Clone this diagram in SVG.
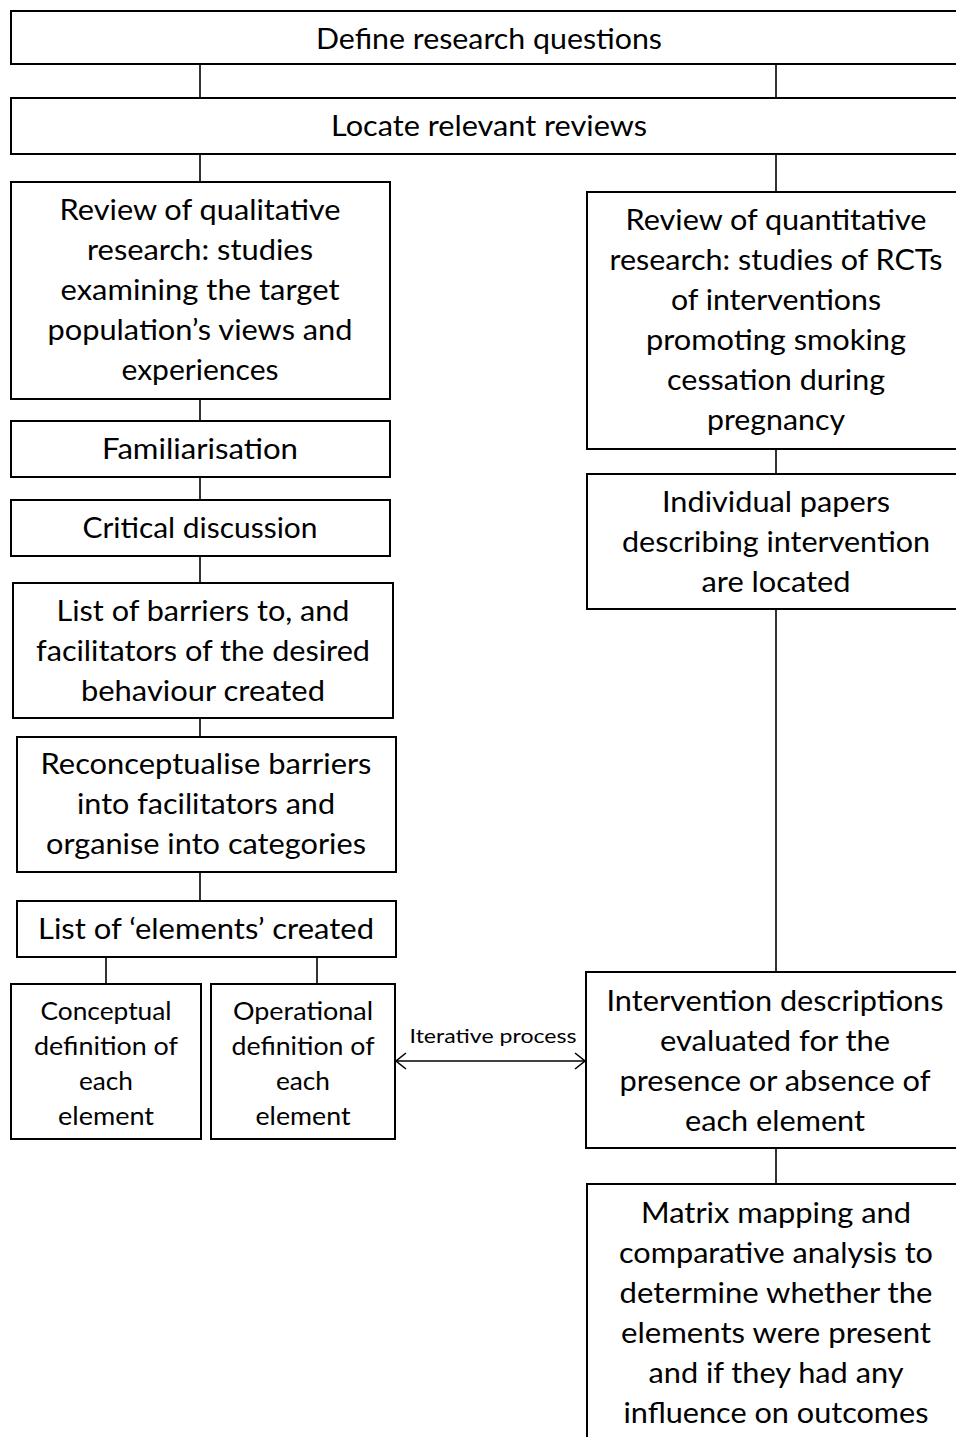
<svg xmlns="http://www.w3.org/2000/svg" width="956" height="1437" viewBox="0 0 956 1437">
  <style>
    .box { fill: #ffffff; stroke: #000000; stroke-width: 2; }
    .link { fill: none; stroke: #000000; stroke-width: 1.6; }
    .t { font-family: Lato, "Liberation Sans", sans-serif; font-size: 28px; fill: #000000; text-anchor: middle; }
    .s { font-family: Lato, "Liberation Sans", sans-serif; font-size: 25px; fill: #000000; text-anchor: middle; }
    .lbl { font-family: Lato, "Liberation Sans", sans-serif; font-size: 20px; fill: #000000; text-anchor: middle; }
  </style>
  <defs>
    <marker id="chev" viewBox="0 0 12 18" refX="11" refY="9" markerWidth="12" markerHeight="18" markerUnits="userSpaceOnUse" orient="auto-start-reverse">
      <path d="M1,1 L11,9 L1,17" fill="none" stroke="#000000" stroke-width="1.6"/>
    </marker>
  </defs>
  <rect width="956" height="1437" fill="#ffffff"/>

  <!-- connectors -->
  <g id="connectors">
    <line class="link" x1="200" y1="64" x2="200" y2="98"/>
    <line class="link" x1="776" y1="64" x2="776" y2="98"/>
    <line class="link" x1="200" y1="154" x2="200" y2="182"/>
    <line class="link" x1="776" y1="154" x2="776" y2="192"/>
    <line class="link" x1="200" y1="399" x2="200" y2="421"/>
    <line class="link" x1="200" y1="477" x2="200" y2="500"/>
    <line class="link" x1="200" y1="556" x2="200" y2="583"/>
    <line class="link" x1="200" y1="718" x2="200" y2="737"/>
    <line class="link" x1="200" y1="872" x2="200" y2="901"/>
    <line class="link" x1="106" y1="957" x2="106" y2="984"/>
    <line class="link" x1="317" y1="957" x2="317" y2="984"/>
    <line class="link" x1="776" y1="449" x2="776" y2="474"/>
    <line class="link" x1="776" y1="609" x2="776" y2="972"/>
    <line class="link" x1="776" y1="1148" x2="776" y2="1184"/>
    <line class="link" x1="396" y1="1061" x2="585" y2="1061" marker-start="url(#chev)" marker-end="url(#chev)"/>
    <text class="lbl" x="493" y="1043" textLength="167" lengthAdjust="spacingAndGlyphs">Iterative process</text>
  </g>

  <g id="define">
    <rect class="box" x="11" y="11" width="970" height="53"/>
    <text class="t" x="489" y="49" textLength="346" lengthAdjust="spacingAndGlyphs">Define research questions</text>
  </g>

  <g id="locate">
    <rect class="box" x="11" y="98" width="970" height="56"/>
    <text class="t" x="489" y="136" textLength="316" lengthAdjust="spacingAndGlyphs">Locate relevant reviews</text>
  </g>

  <g id="qualitative">
    <rect class="box" x="11" y="182" width="379" height="217"/>
    <text class="t" x="200" y="220" textLength="281" lengthAdjust="spacingAndGlyphs">Review of qualitative</text>
    <text class="t" x="200" y="260" textLength="226" lengthAdjust="spacingAndGlyphs">research: studies</text>
    <text class="t" x="200" y="300" textLength="279" lengthAdjust="spacingAndGlyphs">examining the target</text>
    <text class="t" x="200" y="340" textLength="305" lengthAdjust="spacingAndGlyphs">population’s views and</text>
    <text class="t" x="200" y="380" textLength="157" lengthAdjust="spacingAndGlyphs">experiences</text>
  </g>

  <g id="familiarisation">
    <rect class="box" x="11" y="421" width="379" height="56"/>
    <text class="t" x="200" y="459" textLength="196" lengthAdjust="spacingAndGlyphs">Familiarisation</text>
  </g>

  <g id="critical">
    <rect class="box" x="11" y="500" width="379" height="56"/>
    <text class="t" x="200" y="538" textLength="235" lengthAdjust="spacingAndGlyphs">Critical discussion</text>
  </g>

  <g id="barriers">
    <rect class="box" x="13" y="583" width="380" height="135"/>
    <text class="t" x="203" y="621" textLength="293" lengthAdjust="spacingAndGlyphs">List of barriers to, and</text>
    <text class="t" x="203" y="661" textLength="334" lengthAdjust="spacingAndGlyphs">facilitators of the desired</text>
    <text class="t" x="203" y="701" textLength="244" lengthAdjust="spacingAndGlyphs">behaviour created</text>
  </g>

  <g id="reconceptualise">
    <rect class="box" x="17" y="737" width="379" height="135"/>
    <text class="t" x="206" y="774" textLength="331" lengthAdjust="spacingAndGlyphs">Reconceptualise barriers</text>
    <text class="t" x="206" y="814" textLength="258" lengthAdjust="spacingAndGlyphs">into facilitators and</text>
    <text class="t" x="206" y="854" textLength="320" lengthAdjust="spacingAndGlyphs">organise into categories</text>
  </g>

  <g id="elements">
    <rect class="box" x="17" y="901" width="379" height="56"/>
    <text class="t" x="206" y="939" textLength="336" lengthAdjust="spacingAndGlyphs">List of ‘elements’ created</text>
  </g>

  <g id="conceptual">
    <rect class="box" x="11" y="984" width="190" height="155"/>
    <text class="s" x="106" y="1020" textLength="131" lengthAdjust="spacingAndGlyphs">Conceptual</text>
    <text class="s" x="106" y="1055" textLength="144" lengthAdjust="spacingAndGlyphs">definition of</text>
    <text class="s" x="106" y="1090" textLength="54" lengthAdjust="spacingAndGlyphs">each</text>
    <text class="s" x="106" y="1125" textLength="96" lengthAdjust="spacingAndGlyphs">element</text>
  </g>

  <g id="operational">
    <rect class="box" x="211" y="984" width="184" height="155"/>
    <text class="s" x="303" y="1020" textLength="140" lengthAdjust="spacingAndGlyphs">Operational</text>
    <text class="s" x="303" y="1055" textLength="143" lengthAdjust="spacingAndGlyphs">definition of</text>
    <text class="s" x="303" y="1090" textLength="54" lengthAdjust="spacingAndGlyphs">each</text>
    <text class="s" x="303" y="1125" textLength="95" lengthAdjust="spacingAndGlyphs">element</text>
  </g>

  <g id="quantitative">
    <rect class="box" x="587" y="192" width="400" height="257"/>
    <text class="t" x="776" y="230" textLength="301" lengthAdjust="spacingAndGlyphs">Review of quantitative</text>
    <text class="t" x="776" y="270" textLength="333" lengthAdjust="spacingAndGlyphs">research: studies of RCTs</text>
    <text class="t" x="776" y="310" textLength="210" lengthAdjust="spacingAndGlyphs">of interventions</text>
    <text class="t" x="776" y="350" textLength="260" lengthAdjust="spacingAndGlyphs">promoting smoking</text>
    <text class="t" x="776" y="390" textLength="218" lengthAdjust="spacingAndGlyphs">cessation during</text>
    <text class="t" x="776" y="430" textLength="138" lengthAdjust="spacingAndGlyphs">pregnancy</text>
  </g>

  <g id="papers">
    <rect class="box" x="587" y="474" width="400" height="135"/>
    <text class="t" x="776" y="512" textLength="228" lengthAdjust="spacingAndGlyphs">Individual papers</text>
    <text class="t" x="776" y="552" textLength="308" lengthAdjust="spacingAndGlyphs">describing intervention</text>
    <text class="t" x="776" y="592" textLength="149" lengthAdjust="spacingAndGlyphs">are located</text>
  </g>

  <g id="evaluation">
    <rect class="box" x="586" y="972" width="400" height="176"/>
    <text class="t" x="775" y="1011" textLength="337" lengthAdjust="spacingAndGlyphs">Intervention descriptions</text>
    <text class="t" x="775" y="1051" textLength="230" lengthAdjust="spacingAndGlyphs">evaluated for the</text>
    <text class="t" x="775" y="1091" textLength="311" lengthAdjust="spacingAndGlyphs">presence or absence of</text>
    <text class="t" x="775" y="1131" textLength="180" lengthAdjust="spacingAndGlyphs">each element</text>
  </g>

  <g id="matrix">
    <rect class="box" x="587" y="1184" width="400" height="300"/>
    <text class="t" x="776" y="1223" textLength="270" lengthAdjust="spacingAndGlyphs">Matrix mapping and</text>
    <text class="t" x="776" y="1263" textLength="314" lengthAdjust="spacingAndGlyphs">comparative analysis to</text>
    <text class="t" x="776" y="1303" textLength="313" lengthAdjust="spacingAndGlyphs">determine whether the</text>
    <text class="t" x="776" y="1343" textLength="310" lengthAdjust="spacingAndGlyphs">elements were present</text>
    <text class="t" x="776" y="1383" textLength="255" lengthAdjust="spacingAndGlyphs">and if they had any</text>
    <text class="t" x="776" y="1423" textLength="305" lengthAdjust="spacingAndGlyphs">influence on outcomes</text>
  </g>
</svg>
